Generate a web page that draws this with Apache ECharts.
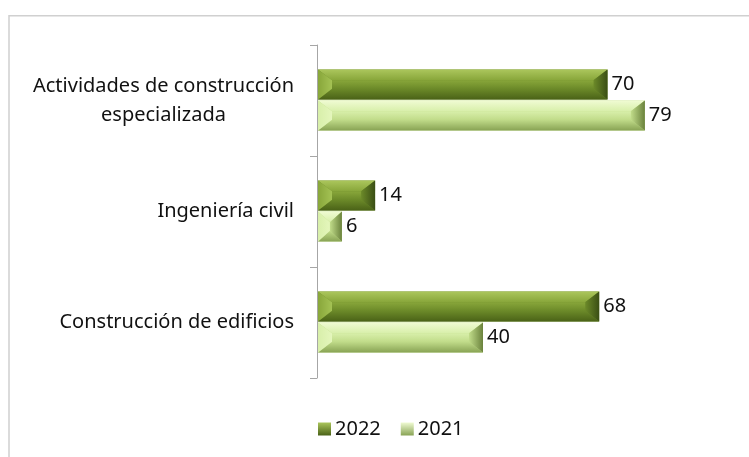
<!DOCTYPE html>
<html>
<head>
<meta charset="utf-8">
<script src="https://cdn.jsdelivr.net/npm/echarts@6/dist/echarts.min.js"></script>
<style>
html,body{margin:0;padding:0;background:#fff;}
#chart{width:749px;height:457px;}
</style>
</head>
<body>
<div id="chart"></div>
<script>
const categories = ['Actividades de construcción\nespecializada', 'Ingeniería civil', 'Construcción de edificios'];
const seriesNames = ['2022', '2021'];
const values2022 = [70, 14, 68];
const values2021 = [79, 6, 40];

const FONT = '"Noto Sans"';
const FS = 20;
const palettes = {
  dark: { top: '#abc65c', faceA: '#88a63a', faceB: '#6c8a29', bottom: '#4a6217', left: '#a4c254', right: '#3a4e14' },
  light: { top: '#f0fbd3', faceA: '#d8efaa', faceB: '#c1dc8a', bottom: '#88a354', left: '#e4f6bc', right: '#6a823c' }
};

function grad(a, b) {
  return new echarts.graphic.LinearGradient(0, 0, 0, 1, [{ offset: 0, color: a }, { offset: 1, color: b }]);
}
function hgrad(a, b) {
  return new echarts.graphic.LinearGradient(0, 0, 1, 0, [{ offset: 0, color: a }, { offset: 1, color: b }]);
}

function makeRender(dir, pal) {
  return function (params, api) {
    const val = api.value(0);
    const idx = api.value(1);
    const c0 = api.coord([0, idx]);
    const c1 = api.coord([val, idx]);
    const band = api.size([0, 1])[1];
    const h = band * 0.27;
    const yc = c0[1];
    const y0 = dir < 0 ? yc - h - 1 : yc;
    const y1 = y0 + h;
    const x0 = c0[0] + 1;
    const x1 = c1[0];
    const w = x1 - x0;
    const bx = Math.min(14, w / 2);
    const by = Math.min(h * 0.36, h / 2);
    const ix0 = x0 + bx, ix1 = x1 - bx, iy0 = y0 + by, iy1 = y1 - by;
    const poly = (pts, fill) => ({ type: 'polygon', shape: { points: pts }, style: { fill: fill }, silent: true });
    return {
      type: 'group',
      children: [
        { type: 'rect', shape: { x: x0, y: y0, width: w, height: h }, style: { fill: pal.faceB } },
        poly([[x0, y0], [x1, y0], [ix1, iy0], [ix0, iy0]], grad(pal.top, pal.faceA)),
        poly([[x0, y1], [x1, y1], [ix1, iy1], [ix0, iy1]], grad(pal.faceB, pal.bottom)),
        poly([[x0, y0], [ix0, iy0], [ix0, iy1], [x0, y1]], hgrad(pal.faceA, pal.left)),
        poly([[x1, y0], [ix1, iy0], [ix1, iy1], [x1, y1]], hgrad(pal.faceB, pal.right)),
        { type: 'rect', shape: { x: ix0, y: iy0, width: Math.max(0, ix1 - ix0), height: Math.max(0, iy1 - iy0) }, style: { fill: grad(pal.faceA, pal.faceB) } },
        { type: 'text', style: { text: String(val), x: x1 + 4, y: (y0 + y1) / 2, align: 'left', verticalAlign: 'middle', fill: '#111', font: FS + 'px ' + FONT } }
      ]
    };
  };
}

const chart = echarts.init(document.getElementById('chart'));
chart.setOption({
  animation: false,
  backgroundColor: '#fff',
  graphic: [{
    type: 'rect', shape: { x: 9, y: 15.7, width: 800, height: 500 },
    style: { fill: 'none', stroke: '#d0d0d0', lineWidth: 1.5 }, silent: true, z: -1
  }],
  grid: { left: 317, right: 17, top: 45, bottom: 79 },
  xAxis: { type: 'value', min: 0, max: 100, show: false },
  yAxis: {
    type: 'category', data: categories, inverse: true,
    axisLine: { lineStyle: { color: '#a6a6a6', width: 1 } },
    axisTick: { show: true, length: 7, lineStyle: { color: '#a6a6a6' } },
    axisLabel: {
      margin: 23,
      formatter: v => v.split('\n').map(l => '{c|' + l + '}').join('\n'),
      rich: { c: { align: 'center', fontSize: FS, fontFamily: FONT, color: '#111', lineHeight: 29 } }
    }
  },
  legend: {
    data: seriesNames, bottom: 13, left: 313, icon: 'rect', itemWidth: 13, itemHeight: 13, itemGap: 20,
    textStyle: { fontSize: FS, fontFamily: FONT, color: '#111', padding: [0, 0, 0, -1] }
  },
  series: [
    { name: seriesNames[0], type: 'custom', renderItem: makeRender(-1, palettes.dark), encode: { x: 0, y: 1 },
      itemStyle: { color: grad(palettes.dark.top, palettes.dark.bottom) },
      data: values2022.map((v, i) => [v, i]) },
    { name: seriesNames[1], type: 'custom', renderItem: makeRender(1, palettes.light), encode: { x: 0, y: 1 },
      itemStyle: { color: grad(palettes.light.top, palettes.light.bottom) },
      data: values2021.map((v, i) => [v, i]) }
  ]
});
</script>
</body>
</html>
